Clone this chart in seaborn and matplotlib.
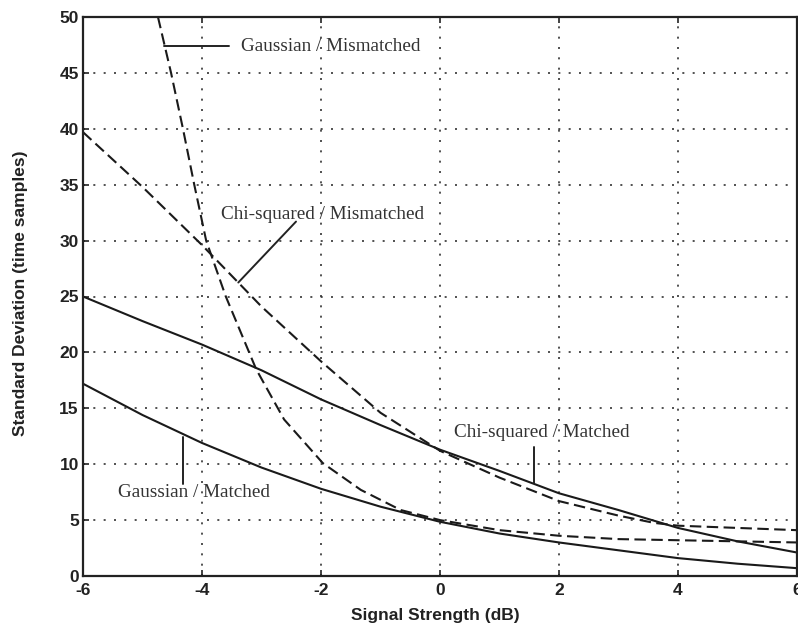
import matplotlib
matplotlib.use("Agg")
import matplotlib.pyplot as plt
import seaborn as sns
import pandas as pd
import numpy as np

# ---- data ----
x_main = [-6, -5, -4, -3, -2, -1, 0, 1, 2, 3, 4, 5, 6]
chi_matched = [25.0, 22.8, 20.7, 18.4, 15.8, 13.5, 11.3, 9.4, 7.4, 5.9, 4.3, 3.1, 2.1]
gauss_matched = [17.2, 14.4, 11.9, 9.7, 7.8, 6.2, 4.85, 3.8, 3.0, 2.3, 1.6, 1.1, 0.7]

x_chi_mis = [-6, -5, -4, -3, -2, -1, 0, 1, 2, 3, 3.6, 4, 5, 6]
chi_mismatched = [39.7, 34.8, 29.6, 24.1, 19.2, 14.6, 11.2, 8.8, 6.7, 5.4, 4.75, 4.5, 4.3, 4.1]

x_gauss_mis = [-4.74, -4.52, -4.32, -4.13, -3.93, -3.6, -3.09, -2.62, -1.97,
               -1.33, -0.66, 0, 1, 2, 3, 4, 5, 6]
gauss_mismatched = [50, 45, 40, 35, 30, 25, 18.5, 14.0, 10.1,
                    7.7, 5.9, 5.0, 4.1, 3.6, 3.3, 3.2, 3.1, 3.0]

x_ticks = [-6, -4, -2, 0, 2, 4, 6]
y_ticks = [0, 5, 10, 15, 20, 25, 30, 35, 40, 45, 50]

labels = ["Gaussian / Mismatched", "Chi-squared / Mismatched",
          "Chi-squared / Matched", "Gaussian / Matched"]

sns.set_style("white")
plt.rcParams["font.family"] = ["Liberation Sans", "DejaVu Sans"]

fig = plt.figure(figsize=(7.98, 6.31), dpi=100)
ax = fig.add_axes([83 / 798, 1 - 576 / 631, (797 - 83) / 798, (576 - 17) / 631])

dash = (0, (5.5, 2.6))
series = [
    (x_main, chi_matched, "-"),
    (x_main, gauss_matched, "-"),
    (x_chi_mis, chi_mismatched, dash),
    (x_gauss_mis, gauss_mismatched, dash),
]
for xs, ys, ls in series:
    df = pd.DataFrame({"x": xs, "y": ys})
    sns.lineplot(data=df, x="x", y="y", ax=ax, color="#1a1a1a", lw=1.5,
                 linestyle=ls, sort=False, estimator=None)

ax.set_xlim(-6, 6)
ax.set_ylim(0, 50)
ax.set_xticks(x_ticks)
ax.set_yticks(y_ticks)
ax.set_xticklabels([str(t) for t in x_ticks], fontweight="bold")
ax.set_yticklabels([str(t) for t in y_ticks], fontweight="bold")
ax.grid(True, color="#333333", linestyle=(0, (1.2, 5)), linewidth=1.2)
for s in ax.spines.values():
    s.set_color("#222222")
    s.set_linewidth(1.6)

ax.tick_params(axis="both", direction="in", length=4, width=1.2,
               labelsize=12.5, colors="#222222", pad=3, top=True, left=True,
               bottom=True)
ax.tick_params(axis="x", pad=5)
ax.set_xlabel("Signal Strength (dB)", fontsize=12.5, fontweight="bold",
              color="#222222")
ax.set_ylabel("Standard Deviation (time samples)", fontsize=12.5,
              fontweight="bold", color="#222222")
ax.xaxis.set_label_coords(0.494, -0.057)
ax.yaxis.set_label_coords(-0.077, 0.506)

serif = ["Liberation Serif", "DejaVu Serif"]
tkw = dict(fontsize=13.8, family=serif, color="#333333", va="center", ha="left")
lkw = dict(color="#222222", lw=1.4)

# Gaussian / Mismatched
ax.plot([-4.64, -3.55], [47.4, 47.4], **lkw)
ax.text(-3.34, 47.4, labels[0], **tkw)
# Chi-squared / Mismatched
ax.plot([-3.39, -2.42], [26.25, 31.7], **lkw)
ax.text(-3.68, 32.3, labels[1], **tkw)
# Chi-squared / Matched
ax.plot([1.58, 1.58], [11.5, 8.3], **lkw)
ax.text(0.24, 12.8, labels[2], **tkw)
# Gaussian / Matched
ax.plot([-4.32, -4.32], [12.45, 8.24], **lkw)
ax.text(-5.41, 7.44, labels[3], **tkw)

fig.savefig("out.png", dpi=100)
